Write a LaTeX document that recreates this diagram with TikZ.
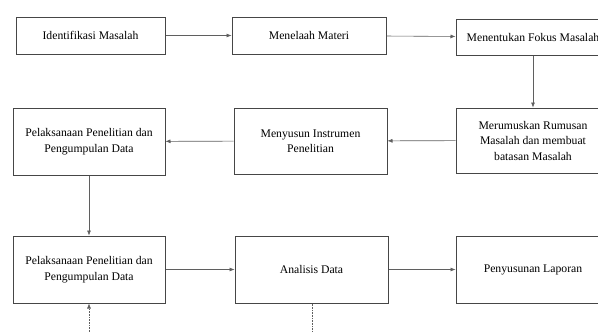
\documentclass[tikz,border=0pt]{standalone}
\usepackage{fontspec}
\setmainfont{Liberation Serif}
\usetikzlibrary{arrows.meta}
\definecolor{box_gray}{RGB}{70,70,70}
\definecolor{edge_gray}{RGB}{95,95,95}

\begin{document}
\begin{tikzpicture}[->,>={Latex[length=5pt,width=4pt]},x=1pt,y=-1pt]
    \tikzstyle{stage}=[draw=box_gray, line width=1pt, rectangle, minimum width=152pt, text=black, align=center, font=\fontsize{11.7}{15.5}\selectfont, inner sep=2pt]
    \tikzstyle{flow}=[draw=edge_gray, line width=0.6pt]
    \tikzstyle{loose}=[style=flow, densely dotted]
    \useasboundingbox (0,0) rectangle (598,332);

    \node[stage, minimum width=149pt, minimum height=37pt] (idm) at (90.5,35.5) {Identifikasi Masalah};
    \node[stage, minimum width=154pt, minimum height=37pt] (tml) at (309,35.5) {Menelaah Materi};
    \node[stage, minimum width=154pt, minimum height=36pt] (fks) at (533,37) {Menentukan Fokus Masalah};

    \node[stage, minimum height=67pt] (pl1) at (89,141.5) {Pelaksanaan Penelitian dan\\Pengumpulan Data};
    \node[stage, minimum width=153pt, minimum height=66pt] (ins) at (310.5,141) {Menyusun Instrumen\\Penelitian};
    \node[stage, minimum width=154pt, minimum height=65pt] (rms) at (533,140.5) {Merumuskan Rumusan\\Masalah dan membuat\\batasan Masalah};

    \node[stage, minimum height=67pt] (pl2) at (89,269.5) {Pelaksanaan Penelitian dan\\Pengumpulan Data};
    \node[stage, minimum width=153pt, minimum height=67pt] (ana) at (311.5,269.5) {Analisis Data};
    \node[stage, minimum width=154pt, minimum height=67pt] (lap) at (533,269.5) {Penyusunan Laporan};

    \coordinate (inA) at (89,332);
    \coordinate (outB) at (312,332);

    \path
     (idm) edge[flow] (tml)
     (tml) edge[flow] (fks)
     (fks) edge[flow] (rms)
     (rms) edge[flow] (ins)
     (ins) edge[flow] (pl1)
     (pl1) edge[flow] (pl2)
     (pl2) edge[flow] (ana)
     (ana) edge[flow] (lap)
     (inA) edge[loose] (pl2)
     (ana.south -| outB) edge[loose,-] (outB)
     ;
\end{tikzpicture}
\end{document}
